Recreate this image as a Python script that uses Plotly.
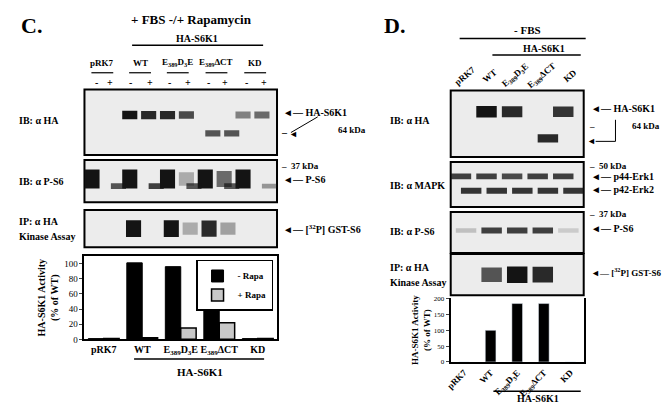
import plotly.graph_objects as go

W, H = 670, 404
FONT = "Liberation Serif"

# bar chart data
c_cats = ["pRK7", "WT", "E<sub>389</sub>D<sub>3</sub>E", "E<sub>389</sub>ΔCT", "KD"]
c_minus_rapa = [1, 101, 96, 54, 1]
c_plus_rapa = [1, 2, 15, 22, 1]
d_cats = ["pRK7", "WT", "E<sub>389</sub>D<sub>3</sub>E", "E<sub>389</sub>ΔCT", "KD"]
d_activity = [0, 100, 185, 185, 0]

# blot band intensities per lane (0..1)
c_ha_full = [0, 0, 1, 0.9, 0.9, 0.75, 0, 0, 0.5, 0.6]
c_ha_dct = [0, 0, 0, 0, 0, 0, 0.7, 0.7, 0, 0]
c_ps6_up = [1, 0, 1, 0, 1, 0.3, 1, 0.6, 1, 0]
c_ps6_low = [0, 0.7, 0, 0.8, 0, 0.7, 0, 0.7, 0, 0.4]
c_kin = [0, 0, 1, 0, 1, 0.3, 0.9, 0.35, 0, 0]
d_ha_full = [0, 1, 0.9, 0, 0.85]
d_ha_dct = [0, 0, 0, 0.9, 0]
d_erk1 = [0.8, 0.8, 0.75, 0.8, 0.8]
d_erk2 = [0.85, 0.85, 0.85, 0.85, 0.85]
d_ps6 = [0.2, 0.8, 0.8, 0.8, 0.15]
d_kin = [0, 0.7, 1, 0.9, 0]


def px(x):
    return x / W


def py(y):
    return 1 - y / H


fig = go.Figure()
layout = {}
shapes = []
ann = []


def blot(idx, x0, x1, y0, y1, lanes, bands):
    # bands: list of (intensities, centre 0..1, thickness)
    xa, ya = f"xaxis{idx}", f"yaxis{idx}"
    layout[xa] = dict(domain=[px(x0), px(x1)], range=[-0.6, lanes - 0.4],
                      visible=False, anchor=f"y{idx}")
    layout[ya] = dict(domain=[py(y1), py(y0)], range=[0, 1],
                      visible=False, anchor=f"x{idx}")
    shapes.append(dict(type="rect", xref=f"x{idx} domain", yref=f"y{idx} domain",
                       x0=0, x1=1, y0=0, y1=1, fillcolor="#ececec",
                       line=dict(color="black", width=2), layer="below"))
    for vals, pos, th in bands:
        cols = [f"rgba(20,20,20,{v})" for v in vals]
        fig.add_trace(go.Bar(x=list(range(lanes)), y=[th * (0.6 + 0.4 * v) for v in vals],
                             base=[pos - th * (0.6 + 0.4 * v) / 2 for v in vals],
                             marker=dict(color=cols, line=dict(width=0)),
                             width=0.8, xaxis=f"x{idx}", yaxis=f"y{idx}",
                             showlegend=False, hoverinfo="skip"))


blot(3, 72, 266, 80, 147, 10, [(c_ha_full, 0.61, 0.13), (c_ha_dct, 0.33, 0.11)])
blot(4, 72, 266, 152, 195, 10, [(c_ps6_up, 0.55, 0.45), (c_ps6_low, 0.38, 0.15)])
blot(5, 72, 266, 203, 241, 10, [(c_kin, 0.5, 0.45)])
blot(6, 441, 575, 81, 149, 5, [(d_ha_full, 0.68, 0.17), (d_ha_dct, 0.28, 0.13)])
blot(7, 441, 575, 154, 200, 5, [(d_erk1, 0.68, 0.14), (d_erk2, 0.36, 0.14)])
blot(8, 441, 575, 205, 247, 5, [(d_ps6, 0.55, 0.16)])
blot(9, 441, 575, 248, 290, 5, [(d_kin, 0.5, 0.4)])

# C bar chart
fig.add_trace(go.Bar(x=c_cats, y=c_minus_rapa, name="<b>- Rapa</b>",
                     marker=dict(color="black", line=dict(color="black", width=1))))
fig.add_trace(go.Bar(x=c_cats, y=c_plus_rapa, name="<b>+ Rapa</b>",
                     marker=dict(color="#c8c8c8", line=dict(color="black", width=1.5))))
# D bar chart
fig.add_trace(go.Bar(x=d_cats, y=d_activity, marker_color="black", width=0.4,
                     xaxis="x2", yaxis="y2", showlegend=False))

layout["xaxis"] = dict(domain=[px(72), px(266)], showline=True, mirror=True,
                       linecolor="black", linewidth=2, ticks="", tickangle=0,
                       tickfont=dict(family=FONT, size=10, color="black"),
                       tickprefix="<b>", ticksuffix="</b>", anchor="y")
layout["yaxis"] = dict(domain=[py(335), py(250)], range=[0, 110], dtick=20,
                       showline=True, mirror=True, linecolor="black", linewidth=2,
                       ticks="outside", ticklen=3, showgrid=False, tickfont=dict(family=FONT, size=9),
                       title=dict(text="<b>HA-S6K1 Activity<br>(% of WT)</b>", font=dict(family=FONT, size=10), standoff=4),
                       anchor="x")
layout["xaxis2"] = dict(domain=[px(441), px(575)], showline=True, mirror=False,
                        linecolor="black", linewidth=2, ticks="", tickangle=-45,
                        tickprefix="<b>", ticksuffix="</b>",
                        tickfont=dict(family=FONT, size=9, color="black"), anchor="y2")
layout["yaxis2"] = dict(domain=[py(358), py(293)], range=[0, 202], tickvals=[0, 50, 100, 150, 200],
                        showline=True, mirror=True, linecolor="black", linewidth=2,
                        ticks="outside", ticklen=3, showgrid=False, tickfont=dict(family=FONT, size=7),
                        title=dict(text="<b>HA-S6K1 Activity<br>(% of WT)</b>", font=dict(family=FONT, size=9), standoff=2),
                        anchor="x2")


def text(x, y, s, size=12, xanchor="center", angle=0):
    ann.append(dict(x=px(x), y=py(y), xref="paper", yref="paper", text=s, showarrow=False,
                    xanchor=xanchor, yanchor="middle", textangle=angle,
                    font=dict(family=FONT, size=size, color="black")))


def hline(x0, x1, y, w=1.5):
    shapes.append(dict(type="line", xref="paper", yref="paper", x0=px(x0), x1=px(x1),
                       y0=py(y), y1=py(y), line=dict(color="black", width=w)))


# panel C texts
text(6, 15, "<b>C.</b>", 22, "left")
text(180, 9, "<b>+ FBS -/+ Rapamycin</b>", 13)
text(185, 28, "<b>HA-S6K1</b>", 10)
hline(120, 252, 35)
for x, s in zip([90, 128, 166, 205, 244], c_cats):
    text(x, 53, f"<b>{s}</b>", 9)
    hline(x - 11, x + 11, 63, 1.2)
for i, x in enumerate([84, 98, 118, 138, 158, 176, 197, 214, 235, 253]):
    text(x, 73, "<b>-</b>" if i % 2 == 0 else "<b>+</b>", 10)
text(4, 112, "<b>IB: α HA</b>", 10, "left")
text(4, 174, "<b>IB: α P-S6</b>", 10, "left")
text(4, 215, "<b>IP: α HA</b>", 10, "left")
text(4, 230, "<b>Kinase Assay</b>", 10, "left")
text(270, 104, "<b>◄— HA-S6K1</b>", 10, "left")
text(268, 124, "<b>–</b>", 10, "left")
shapes.append(dict(type="line", xref="paper", yref="paper", x0=px(307), y0=py(108),
                   x1=px(280), y1=py(124), line=dict(color="black", width=1)))
text(283, 125, "◄", 9, "center")
text(325, 121, "<b>64 kDa</b>", 9, "left")
text(268, 158, "<b>–  37 kDa</b>", 9, "left")
text(270, 172, "<b>◄— P-S6</b>", 10, "left")
text(270, 222, "<b>◄— [<sup>32</sup>P] GST-S6</b>", 10, "left")
hline(122, 253, 355)
text(188, 368, "<b>HA-S6K1</b>", 11)

# panel D texts
text(372, 15, "<b>D.</b>", 22, "left")
text(518, 19, "<b>- FBS</b>", 11)
hline(450, 577, 28)
text(535, 38, "<b>HA-S6K1</b>", 10)
hline(483, 572, 45)
for x, s in zip([455, 480, 506, 533, 561], d_cats):
    text(x, 66, f"<b>{s}</b>", 9, angle=-40)
text(378, 112, "<b>IB: α HA</b>", 10, "left")
text(378, 178, "<b>IB: α MAPK</b>", 10, "left")
text(378, 225, "<b>IB: α P-S6</b>", 10, "left")
text(378, 262, "<b>IP: α HA</b>", 10, "left")
text(378, 277, "<b>Kinase Assay</b>", 10, "left")
text(580, 99, "<b>◄— HA-S6K1</b>", 10, "left")
text(578, 117, "<b>–</b>", 9, "left")
text(622, 117, "<b>64 kDa</b>", 9, "left")
shapes.append(dict(type="line", xref="paper", yref="paper", x0=px(607), y0=py(111),
                   x1=px(607), y1=py(133), line=dict(color="black", width=1)))
shapes.append(dict(type="line", xref="paper", yref="paper", x0=px(587), y0=py(133),
                   x1=px(607), y1=py(133), line=dict(color="black", width=1)))
text(583, 133, "◄", 9)
text(578, 158, "<b>–  50 kDa</b>", 9, "left")
text(580, 169, "<b>◄— p44-Erk1</b>", 10, "left")
text(580, 182, "<b>◄— p42-Erk2</b>", 10, "left")
text(578, 207, "<b>–  37 kDa</b>", 9, "left")
text(580, 222, "<b>◄— P-S6</b>", 10, "left")
text(580, 266, "<b>◄— [<sup>32</sup>P] GST-S6</b>", 9, "left")
hline(484, 572, 388)
text(529, 395, "<b>HA-S6K1</b>", 10)

layout.update(
    width=W, height=H, margin=dict(l=0, r=0, t=0, b=0),
    paper_bgcolor="white", plot_bgcolor="rgba(0,0,0,0)",
    barmode="group", bargap=0.2, bargroupgap=0,
    font=dict(family=FONT, color="black"),
    legend=dict(x=px(262), y=py(254), xanchor="right", yanchor="top",
                bordercolor="black", borderwidth=1.5, bgcolor="white",
                font=dict(family=FONT, size=9, color="black"), tracegroupgap=0,
                itemwidth=30, entrywidth=45),
    shapes=shapes, annotations=ann,
)
fig.update_layout(**layout)
fig.write_html("out.html")
